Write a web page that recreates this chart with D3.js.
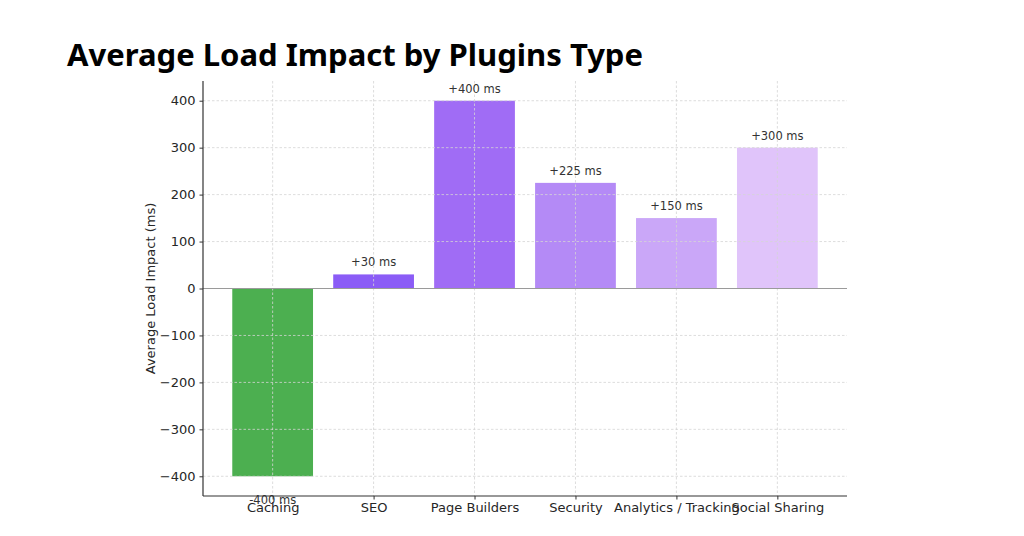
<!DOCTYPE html>
<html><head><meta charset="utf-8">
<script src="https://cdn.jsdelivr.net/npm/d3@7"></script>
<style>body{margin:0;background:#fff}svg{display:block}</style>
</head><body>
<svg id="c" width="1024" height="536"></svg>
<script>
const categories = ["Caching","SEO","Page Builders","Security","Analytics / Tracking","Social Sharing"];
const values = [-400, 30, 400, 225, 150, 300];
const labels = ["-400 ms","+30 ms","+400 ms","+225 ms","+150 ms","+300 ms"];
const colors = ["#4caf50","#8b5cf6","#a06cf5","#b48af6","#caa7f8","#e0c4fa"];
const yTicks = [-400,-300,-200,-100,0,100,200,300,400];
const title = "Average Load Impact by Plugins Type";
const yLabel = "Average Load Impact (ms)";

const svg = d3.select("#c");
const L = 203, R = 847, T = 81, B = 496;
const y = d3.scaleLinear().domain([-442, 442]).range([B, T]);
const x = d3.scaleLinear().domain([-0.69, 5.69]).range([L, R]);
const bw = x(0.8) - x(0);
const font = "DejaVu Sans, sans-serif";

svg.append("text").attr("x", 67).attr("y", 66).attr("font-family","Noto Sans, sans-serif")
  .attr("font-weight", 700).attr("font-size", 31).attr("fill","#000")
  .attr("textLength", 576).attr("lengthAdjust","spacingAndGlyphs").text(title);

// bars
svg.selectAll("rect.bar").data(values).join("rect")
  .attr("x", (d,i) => x(i) - bw/2).attr("width", bw)
  .attr("y", d => y(Math.max(0,d))).attr("height", d => Math.abs(y(d) - y(0)))
  .attr("fill", (d,i) => colors[i]);

// grid
const g = svg.append("g").attr("stroke","#d4d4d4").attr("stroke-width",0.8).attr("stroke-dasharray","2.5,2");
yTicks.forEach(t => g.append("line").attr("x1",L).attr("x2",R).attr("y1",y(t)).attr("y2",y(t)));
categories.forEach((c,i) => g.append("line").attr("x1",x(i)).attr("x2",x(i)).attr("y1",T).attr("y2",B));

// zero line
svg.append("line").attr("x1",L).attr("x2",R).attr("y1",y(0)).attr("y2",y(0)).attr("stroke","#9a9a9a").attr("stroke-width",1.2);

// axes
const yAx = svg.append("g").attr("transform",`translate(${L},0)`)
  .call(d3.axisLeft(y).tickValues(yTicks).tickSize(3.5).tickPadding(4).tickFormat(d => d < 0 ? "\u2212" + Math.abs(d) : d));
yAx.select(".domain").remove();
yAx.selectAll("text").attr("font-family",font).attr("font-size",13).attr("fill","#262626");
yAx.selectAll("line").attr("stroke","#333");

const xAx = svg.append("g").attr("transform",`translate(0,${B})`)
  .call(d3.axisBottom(x).tickValues(d3.range(categories.length)).tickSize(3.5).tickPadding(3).tickFormat(i => categories[i]));
xAx.select(".domain").remove();
xAx.selectAll("text").attr("font-family",font).attr("font-size",13).attr("fill","#262626");
xAx.selectAll("line").attr("stroke","#333");

svg.append("line").attr("x1",L).attr("x2",L).attr("y1",T).attr("y2",B).attr("stroke","#333").attr("stroke-width",1.2);
svg.append("line").attr("x1",L).attr("x2",R).attr("y1",B).attr("y2",B).attr("stroke","#333").attr("stroke-width",1.2);

// value labels
svg.selectAll("text.val").data(values).join("text").attr("class","val")
  .attr("x",(d,i)=>x(i)).attr("y", d => d >= 0 ? y(d) - 8 : y(d) + 28)
  .attr("text-anchor","middle").attr("font-family",font).attr("font-size",11.5).attr("fill","#333")
  .text((d,i)=>labels[i]);

svg.append("text").attr("transform",`translate(155,${(T+B)/2}) rotate(-90)`)
  .attr("text-anchor","middle").attr("font-family",font).attr("font-size",13).attr("fill","#262626").text(yLabel);
</script>
</body></html>
